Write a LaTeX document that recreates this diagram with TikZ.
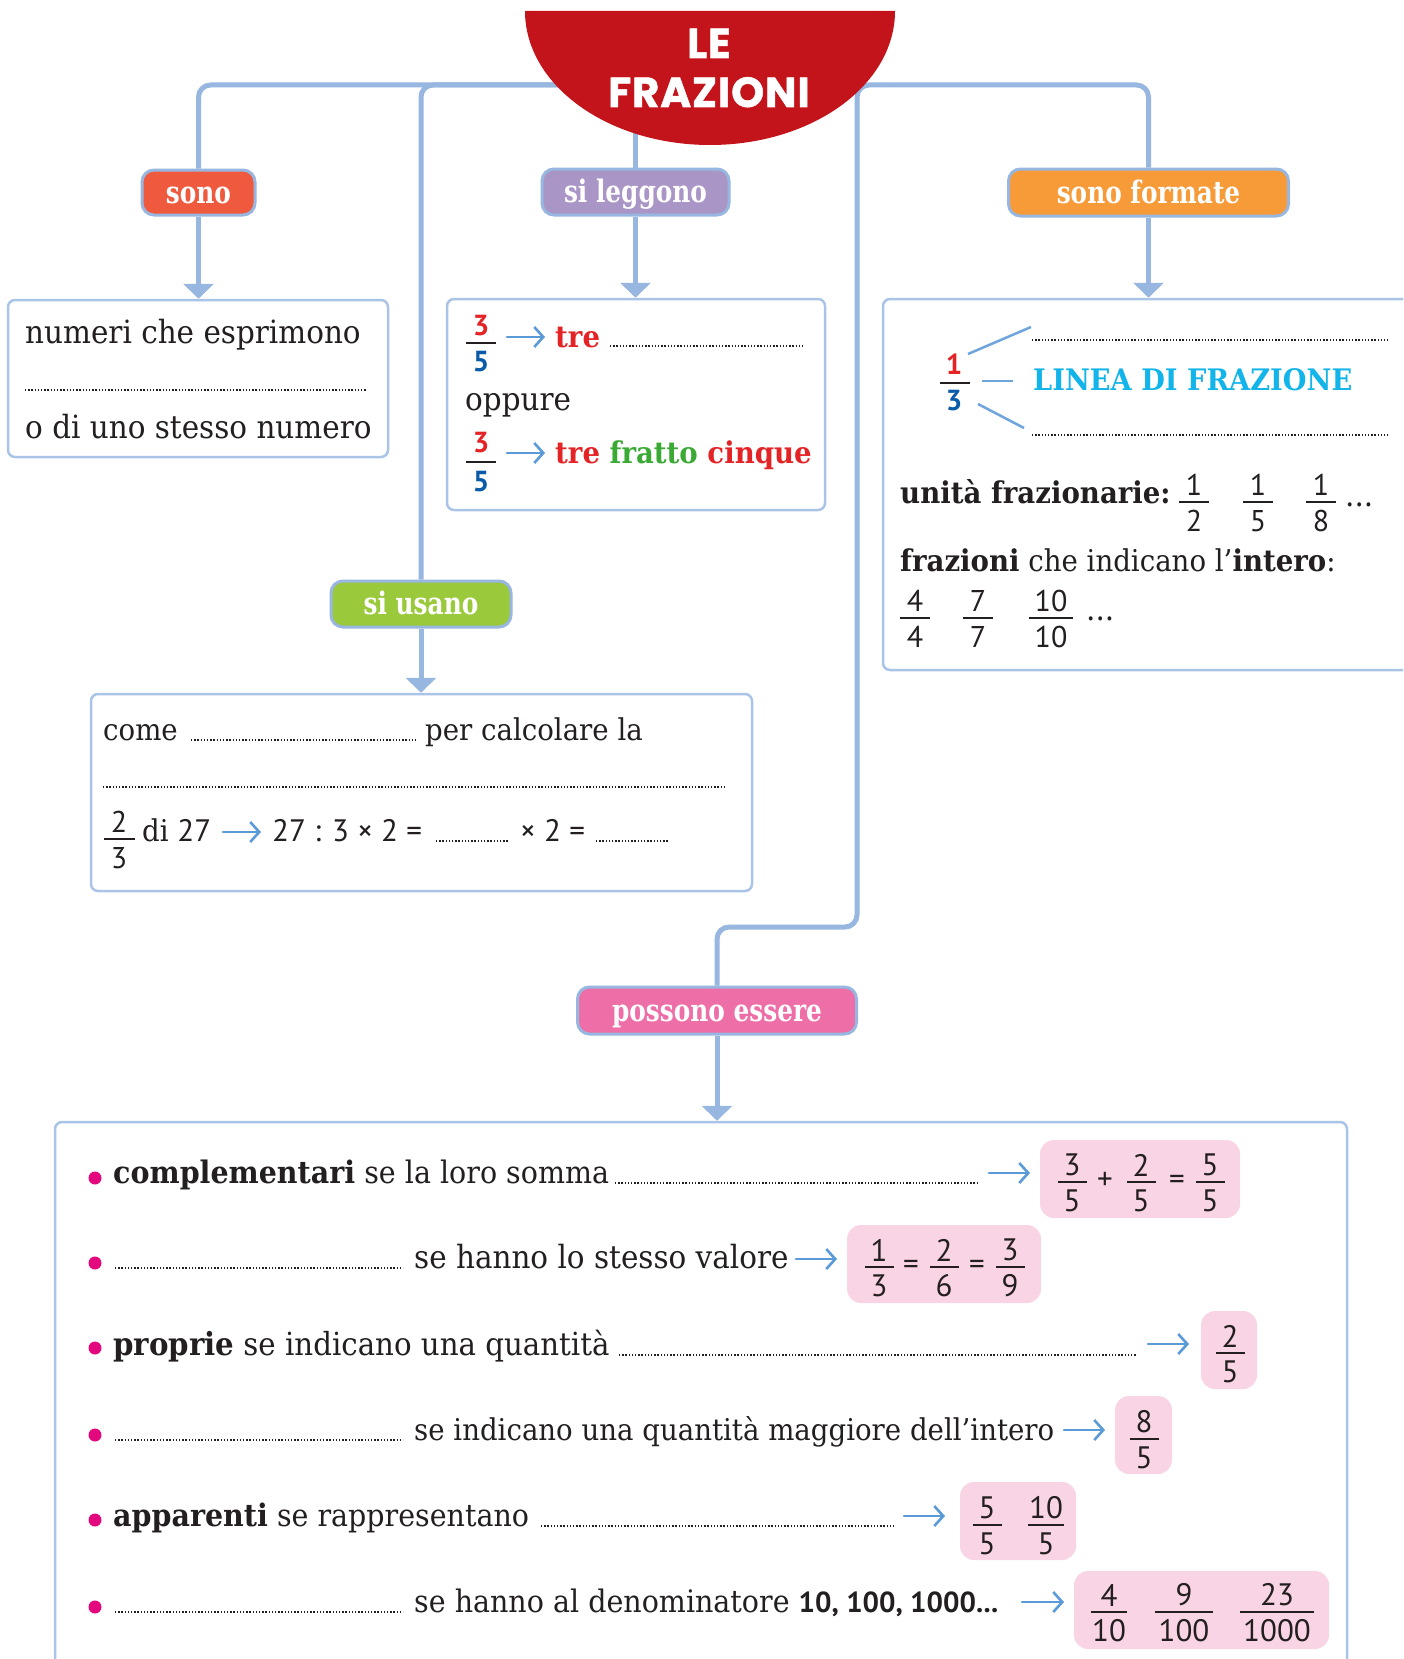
\documentclass[tikz,border=0pt]{standalone}
\usepackage{fontspec}
\setmainfont{DejaVu Serif}
\newfontfamily\bodyf{DejaVu Serif}[FakeStretch=0.92]
\newfontfamily\pillf{DejaVu Serif}[FakeStretch=0.8]
\newfontfamily\numf{PT Sans}
\newfontfamily\titlef{Poppins}[LetterSpace=2,FakeBold=1.2]
\usetikzlibrary{arrows.meta,backgrounds}
\definecolor{titleC}{HTML}{C4141B}
\definecolor{connC}{HTML}{97B6E0}
\definecolor{boxC}{HTML}{A9C4E7}
\definecolor{sonoC}{HTML}{EF5A3F}
\definecolor{leggC}{HTML}{AA96C6}
\definecolor{formC}{HTML}{F79A38}
\definecolor{usanoC}{HTML}{9ACA3C}
\definecolor{possC}{HTML}{EE6EA7}
\definecolor{pinkC}{HTML}{F9D4E4}
\definecolor{bulletC}{HTML}{E4087E}
\definecolor{arrC}{HTML}{5A9AD6}
\definecolor{fred}{HTML}{E42326}
\definecolor{fgreen}{HTML}{3AAA35}
\definecolor{fblue}{HTML}{0B5CA8}
\definecolor{cyanC}{HTML}{12B4E9}
\definecolor{textC}{HTML}{231F20}
\definecolor{lineC}{HTML}{6FA5DC}
\newcommand{\fracat}[6]{%
  \node[fnum] (#1n) at (#2,#3-17) {#5};
  \draw[fbar] (#2-#4,#3) -- (#2+#4,#3);
  \node[fnum] (#1d) at (#2,#3+19) {#6};}
\tikzset{
  conn/.style={draw=connC, line width=5pt, rounded corners=12pt},
  tip/.style={-{Triangle[width=30pt,length=15pt]}},
  pill/.style={draw=connC, line width=3pt, rounded corners=12pt, text=white,
    font={\pillf\bfseries\fontsize{31}{31}\selectfont}, text height=24pt, text depth=3pt, inner sep=0pt},
  box/.style={draw=boxC, line width=2.5pt, rounded corners=7pt, fill=white, inner sep=0pt},
  txt/.style={anchor=base west, inner sep=0pt, text=textC, font={\bodyf\fontsize{32}{38}\selectfont}},
  btxt/.style={txt, font={\bodyf\bfseries\fontsize{30}{36}\selectfont}},
  rtxt/.style={txt, font={\bodyf\fontsize{31}{36}\selectfont}},
  utxt/.style={txt, font={\bodyf\fontsize{30}{36}\selectfont}},
  ntxt/.style={txt, font={\numf\fontsize{31}{36}\selectfont}},
  titletxt/.style={anchor=base, inner sep=0pt, text=white, font={\titlef\bfseries\fontsize{42}{42}\selectfont}},
  dots/.style={draw=textC, line width=1.3pt, dash pattern=on 1.3pt off 1.9pt},
  fnum/.style={inner sep=0pt, text=textC, font={\numf\fontsize{31}{31}\selectfont}},
  lgnum/.style={inner sep=0pt, font={\numf\bfseries\fontsize{29}{29}\selectfont}},
  fbar/.style={draw=textC, line width=1.8pt},
  sarrow/.style={draw=arrC, line width=2.6pt, line cap=round, -{Straight Barb[length=9pt,width=20pt]}},
  bullet/.style={circle, fill=bulletC, inner sep=0pt, minimum size=13pt},
  pinkbox/.style={fill=pinkC, rounded corners=14pt, inner sep=0pt, minimum height=78pt},
  fline/.style={draw=lineC, line width=2.5pt},
}
\begin{document}
\begin{tikzpicture}[x=1pt,y=-1pt]
\useasboundingbox (0,0) rectangle (1403,1659);
\clip (0,0) rectangle (1403,1659);

% ---------- pills ----------
\node[pill, fill=sonoC, minimum width=113pt, minimum height=45pt] (sono) at (198.5,192.5) {sono};
\node[pill, fill=leggC, minimum width=187pt, minimum height=46pt] (leggono) at (635.5,192) {si leggono};
\node[pill, fill=formC, minimum width=280pt, minimum height=47pt] (formate) at (1148.5,192.5) {sono formate};
\node[pill, fill=usanoC, minimum width=180pt, minimum height=46pt] (usano) at (421,604) {si usano};
\node[pill, fill=possC, minimum width=279pt, minimum height=47pt] (possono) at (717,1010.5) {possono essere};

% ---------- connectors from the title ----------
\coordinate (hubL) at (620,85);
\coordinate (hubR) at (890,85);
\coordinate (hubB) at (635.5,120);
\coordinate (bend) at (857,927);
\begin{scope}[on background layer]
  \draw[conn] (sono.north) |- (hubL);
  \draw[conn] (usano.north) |- (hubL);
  \draw[conn] (leggono.north) -- (hubB);
  \draw[conn] (formate.north) |- (hubR);
  \draw[conn] (possono.north) |- (bend) |- (hubR);
\end{scope}

% ---------- title ----------
\fill[titleC] (525,11) arc[start angle=180,end angle=0,x radius=185,y radius=134] -- cycle;
\node[titletxt] (titleA) at (709,58) {LE};
\node[titletxt] (titleB) at (709,107) {FRAZIONI};

% ---------- boxes ----------
\node[box, minimum width=380pt, minimum height=157pt] (bsono) at (198,378.5) {};
\node[box, minimum width=378pt, minimum height=211pt] (bleggono) at (636,404.5) {};
\node[box, minimum width=661pt, minimum height=197pt] (busano) at (421.5,792.5) {};
\node[box, minimum width=600pt, minimum height=371pt] (bformate) at (1183,484.5) {};
\node[box, minimum width=1292pt, minimum height=600pt] (bpossono) at (701,1422) {};

% ---------- arrows pill -> box ----------
\draw[conn,tip] (sono.south) -- (sono.south |- bsono.north);
\draw[conn,tip] (leggono.south) -- (leggono.south |- bleggono.north);
\draw[conn,tip] (formate.south) -- (formate.south |- bformate.north);
\draw[conn,tip] (usano.south) -- (usano.south |- busano.north);
\draw[conn,tip] (possono.south) -- (possono.south |- bpossono.north);

% ---------- box: sono ----------
\node[txt] (s1) at (25,343) {numeri che esprimono};
\draw[dots] (25,390) -- (366,390);
\node[txt] (s2) at (25,438) {o di uno stesso numero};

% ---------- box: si leggono ----------
\node[lgnum, text=fred] (l1n) at (481,326) {3};
\draw[fbar] (466,343) -- (496,343);
\node[lgnum, text=fblue] (l1d) at (481,362) {5};
\coordinate (la1) at (507,337); \coordinate (la1e) at (545,337);
\draw[sarrow] (la1) -- (la1e);
\node[btxt, text=fred] (l1t) at (555,347) {tre};
\draw[dots] (610,346) -- (803,346);
\node[txt] (l2) at (465,410) {oppure};
\node[lgnum, text=fred] (l2n) at (481,443) {3};
\draw[fbar] (466,462) -- (496,462);
\node[lgnum, text=fblue] (l2d) at (481,482) {5};
\coordinate (la2) at (507,453); \coordinate (la2e) at (545,453);
\draw[sarrow] (la2) -- (la2e);
\node[btxt] (l2t) at (555,463) {\textcolor{fred}{tre} \textcolor{fgreen}{fratto} \textcolor{fred}{cinque}};

% ---------- box: sono formate ----------
\node[lgnum, text=fred] (f1n) at (954,364) {1};
\draw[fbar] (940,383) -- (970,383);
\node[lgnum, text=fblue] (f1d) at (954,401) {3};
\draw[fline] (968,354) -- (1031,327);
\draw[fline] (982,381) -- (1013,381);
\draw[fline] (978,404) -- (1024,428);
\draw[dots] (1032,340) -- (1388,340);
\node[btxt, text=cyanC, font={\bodyf\bfseries\fontsize{29.6}{34}\selectfont}] (linea) at (1033,390) {LINEA DI FRAZIONE};
\draw[dots] (1032,435) -- (1388,435);
\node[btxt] (unita) at (900,503) {unità frazionarie:};
\begin{scope}[fnum/.style={inner sep=0pt, text=textC, font={\numf\fontsize{30}{30}\selectfont}}]
  \fracat{u1}{1194}{502}{15}{1}{2}
  \fracat{u2}{1258}{502}{15}{1}{5}
  \fracat{u3}{1321}{502}{15}{1}{8}
  \fracat{i1}{915}{618}{15}{4}{4}
  \fracat{i2}{978}{618}{15}{7}{7}
  \fracat{i3}{1051}{618}{22}{10}{10}
\end{scope}
\node[txt] (udots) at (1345,506) {...};
\node[txt, font={\bodyf\fontsize{30}{36}\selectfont}] (intero) at (900,571) {\textbf{frazioni} che indicano l’\textbf{intero}:};
\node[txt] (idots) at (1086,620) {...};

% ---------- box: si usano ----------
\node[utxt] (u1) at (103,740) {come};
\draw[dots] (191,740) -- (416,740);
\node[utxt] (u2) at (425,740) {per calcolare la};
\draw[dots] (103,787) -- (726,787);
\begin{scope}[fnum/.style={inner sep=0pt, text=textC, font={\numf\fontsize{30}{30}\selectfont}}]
  \fracat{d}{119}{839}{15.5}{2}{3}
\end{scope}
\node[utxt] (u3) at (142,841) {di {\numf\fontsize{31}{36}\selectfont 27}};
\coordinate (ua) at (223,832); \coordinate (uae) at (261,832);
\draw[sarrow] (ua) -- (uae);
\node[ntxt] (u4) at (272,841) {27 : 3 × 2 =};
\draw[dots] (436,841) -- (509,841);
\node[ntxt] (u5) at (520,841) {× 2 =};
\draw[dots] (596,841) -- (668,841);

% ---------- box: possono essere ----------
% row 1
\node[bullet] (bu1) at (95,1178) {};
\node[rtxt] (r1) at (113,1183) {\textbf{complementari} se la loro somma};
\draw[dots] (615,1183) -- (979,1183);
\coordinate (ra1) at (989,1173); \coordinate (ra1e) at (1030,1173);
\draw[sarrow] (ra1) -- (ra1e);
\node[pinkbox, minimum width=200pt] (p1) at (1140,1179) {};
\fracat{a1}{1072}{1182}{14.5}{3}{5}
\node[fnum] (plus) at (1105,1181) {+};
\fracat{a2}{1141}{1182}{14.5}{2}{5}
\node[fnum] (eq1) at (1177,1182) {=};
\fracat{a3}{1210}{1182}{14.5}{5}{5}
% row 2
\node[bullet] (bu2) at (95,1263) {};
\draw[dots] (115,1268) -- (403,1268);
\node[rtxt, font={\bodyf\fontsize{32}{36}\selectfont}] (r2) at (414,1268) {se hanno lo stesso valore};
\coordinate (ra2) at (796,1259); \coordinate (ra2e) at (837,1259);
\draw[sarrow] (ra2) -- (ra2e);
\node[pinkbox, minimum width=194pt] (p2) at (944,1264) {};
\fracat{b1}{879}{1267}{14.5}{1}{3}
\node[fnum] (eq2) at (911,1267) {=};
\fracat{b2}{944}{1267}{14.5}{2}{6}
\node[fnum] (eq3) at (977,1267) {=};
\fracat{b3}{1010}{1267}{14.5}{3}{9}
% row 3
\node[bullet] (bu3) at (95,1348) {};
\node[rtxt, font={\bodyf\fontsize{31.8}{36}\selectfont}] (r3) at (113,1355) {\textbf{proprie} se indicano una quantità};
\draw[dots] (619,1355) -- (1137,1355);
\coordinate (ra3) at (1148,1344); \coordinate (ra3e) at (1189,1344);
\draw[sarrow] (ra3) -- (ra3e);
\node[pinkbox, minimum width=56pt] (p3) at (1229,1350) {};
\fracat{c1}{1230}{1353}{14.5}{2}{5}
% row 4
\node[bullet] (bu4) at (95,1435) {};
\draw[dots] (115,1440) -- (403,1440);
\node[rtxt, font={\bodyf\fontsize{30}{36}\selectfont}] (r4) at (414,1440) {se indicano una quantità maggiore dell’intero};
\coordinate (ra4) at (1064,1430); \coordinate (ra4e) at (1105,1430);
\draw[sarrow] (ra4) -- (ra4e);
\node[pinkbox, minimum width=57pt] (p4) at (1143.5,1435) {};
\fracat{e1}{1144}{1439}{14.5}{8}{5}
% row 5
\node[bullet] (bu5) at (95,1520) {};
\node[rtxt] (r5) at (113,1526) {\textbf{apparenti} se rappresentano};
\draw[dots] (541,1526) -- (894,1526);
\coordinate (ra5) at (904,1516); \coordinate (ra5e) at (945,1516);
\draw[sarrow] (ra5) -- (ra5e);
\node[pinkbox, minimum width=116pt] (p5) at (1018,1521) {};
\fracat{g1}{987}{1525}{14.5}{5}{5}
\fracat{g2}{1046}{1525}{18}{10}{5}
% row 6
\node[bullet] (bu6) at (95,1607) {};
\draw[dots] (115,1612) -- (403,1612);
\node[rtxt] (r6) at (414,1612) {se hanno al denominatore {\numf\bfseries\fontsize{29}{34}\selectfont 10, 100, 1000...}};
\coordinate (ra6) at (1022,1602); \coordinate (ra6e) at (1064,1602);
\draw[sarrow] (ra6) -- (ra6e);
\node[pinkbox, minimum width=255pt] (p6) at (1201.5,1610) {};
\fracat{h1}{1109}{1612}{18}{4}{10}
\fracat{h2}{1184}{1612}{29}{9}{100}
\fracat{h3}{1277}{1612}{37}{23}{1000}
\end{tikzpicture}
\end{document}
